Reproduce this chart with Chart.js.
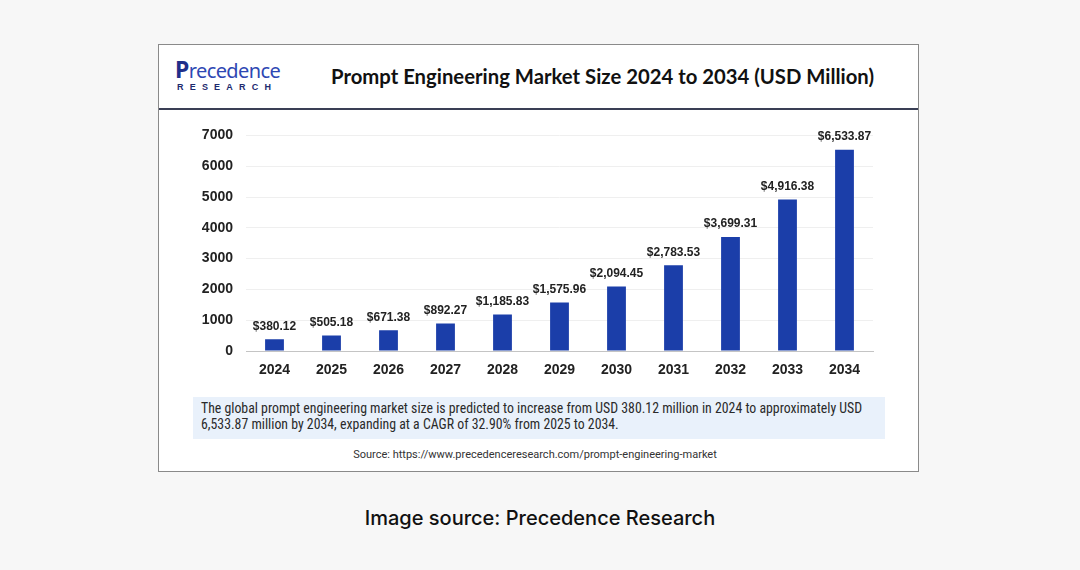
<!DOCTYPE html>
<html>
<head>
<meta charset="utf-8">
<script src="https://cdn.jsdelivr.net/npm/chart.js@4.4.1/dist/chart.umd.min.js"></script>
<style>
  html, body { margin:0; padding:0; }
  body { width:1080px; height:570px; background:#f7f7f7; position:relative; overflow:hidden; font-family:"Liberation Sans", Arial, sans-serif; }
  #card { position:absolute; left:158px; top:44px; width:759px; height:426px; background:#fff; border:1px solid #8a8a8a; }
  #hdrline { position:absolute; left:0; top:63px; width:759px; height:2px; background:#3a3f55; }
  #logo1 { position:absolute; left:16px; top:12px; font-family:"Noto Sans", sans-serif; font-size:20px; color:#2e47b3; letter-spacing:-0.6px; line-height:24px; }
  #logo1 b { font-size:23px; color:#1f2f8a; }
  #logo2 { position:absolute; left:18px; top:37px; font-family:"Liberation Sans", Arial, sans-serif; font-weight:bold; font-size:9px; color:#1d2a6e; letter-spacing:6.2px; line-height:10px; }
  #title { position:absolute; left:172px; top:19px; font-family:Lato, sans-serif; font-weight:bold; font-size:20.3px; color:#111; white-space:nowrap; line-height:24px; }
  #chartwrap { position:absolute; left:180px; top:114px; width:720px; height:276px; }
  #desc { position:absolute; left:193px; top:397px; width:692px; height:42px; background:#e9f1fb; }
  #desctext { position:absolute; left:8px; top:3px; width:684px; white-space:nowrap; font-family:"Liberation Sans Narrow", "Roboto Condensed", Roboto, sans-serif; font-size:13.8px; line-height:16px; color:#2a2a2a; }
  #source { position:absolute; left:180px; top:448px; width:710px; text-align:center; font-family:"Liberation Sans Narrow", Roboto, sans-serif; font-size:11px; color:#333; }
  #caption { position:absolute; left:0; top:506px; width:1080px; text-align:center; font-family:Inter, sans-serif; font-weight:500; font-size:20px; color:#111; }
</style>
</head>
<body>
<div id="card">
  <div id="logo1"><b>P</b>recedence</div>
  <div id="logo2">RESEARCH</div>
  <div id="title">Prompt Engineering Market Size 2024 to 2034 (USD Million)</div>
  <div id="hdrline"></div>
</div>
<div id="chartwrap"><canvas id="c" width="720" height="276"></canvas></div>
<div id="desc"><div id="desctext">The global prompt engineering market size is predicted to increase from USD 380.12 million in 2024 to approximately USD<br>6,533.87 million by 2034, expanding at a CAGR of 32.90% from 2025 to 2034.</div></div>
<div id="source">Source: https://www.precedenceresearch.com/prompt-engineering-market</div>
<div id="caption">Image source: Precedence Research</div>
<script>
const years = ["2024","2025","2026","2027","2028","2029","2030","2031","2032","2033","2034"];
const marketSize = [380.12, 505.18, 671.38, 892.27, 1185.83, 1575.96, 2094.45, 2783.53, 3699.31, 4916.38, 6533.87];
const yTicks = [0, 1000, 2000, 3000, 4000, 5000, 6000, 7000];

function fmt(v) {
  return "$" + v.toLocaleString("en-US", {minimumFractionDigits:2, maximumFractionDigits:2});
}

const valueLabels = {
  id: "valueLabels",
  afterDatasetsDraw(chart) {
    const ctx = chart.ctx;
    const meta = chart.getDatasetMeta(0);
    ctx.save();
    ctx.font = "bold 12px 'Liberation Sans', Arial, sans-serif";
    ctx.fillStyle = "#222";
    ctx.textAlign = "center";
    ctx.textBaseline = "bottom";
    meta.data.forEach((bar, i) => {
      ctx.fillText(fmt(marketSize[i]), bar.x, bar.y - 7);
    });
    ctx.restore();
  }
};

new Chart(document.getElementById("c"), {
  type: "bar",
  data: {
    labels: years,
    datasets: [{
      data: marketSize,
      backgroundColor: "#1b3ea9",
      barPercentage: 0.66,
      categoryPercentage: 0.5
    }]
  },
  options: {
    responsive: false,
    animation: false,
    devicePixelRatio: 1,
    layout: { padding: { left: 0, right: 27, top: 18, bottom: 0 } },
    plugins: { legend: { display: false }, tooltip: { enabled: false } },
    scales: {
      x: {
        grid: { display: false, drawTicks: false },
        border: { display: true, color: "#c4c4c4", width: 1 },
        ticks: { color: "#222", font: { family: "'Liberation Sans', Arial, sans-serif", weight: "bold", size: 14 }, padding: 11, maxRotation: 0 },
        afterFit(scale) { scale.height = 39; }
      },
      y: {
        min: 0, max: 7000,
        afterBuildTicks(scale) { scale.ticks = yTicks.map(v => ({ value: v })); },
        grid: { color: "#efefef", drawTicks: false },
        border: { display: false },
        ticks: { color: "#222", font: { family: "'Liberation Sans', Arial, sans-serif", weight: "bold", size: 14 }, padding: 13, callback: (v) => String(v) },
        afterFit(scale) { scale.width = 66; }
      }
    }
  },
  plugins: [valueLabels]
});
</script>
</body>
</html>
